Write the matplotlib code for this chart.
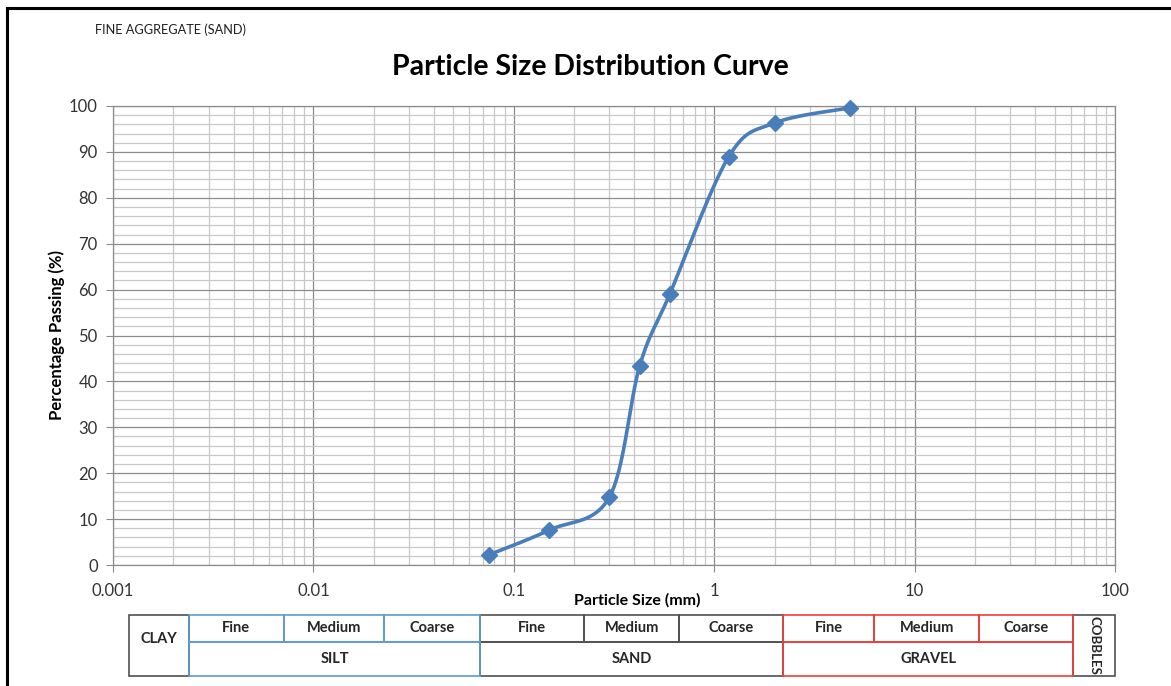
import numpy as np
import matplotlib.pyplot as plt
from matplotlib.lines import Line2D
from matplotlib.patches import Rectangle
from matplotlib.ticker import FixedLocator, FuncFormatter

plt.rcParams['font.family'] = ['Lato', 'DejaVu Sans']

# sieve results
size_mm = [0.075, 0.15, 0.3, 0.425, 0.6, 1.18, 2.0, 4.75]
passing = [2.2, 7.6, 14.8, 43.4, 59.0, 88.9, 96.3, 99.6]

# soil classification bands under the chart, cell edges in mm
clay_edges = [0.0012, 0.0024]
silt_edges = [0.0024, 0.0071, 0.0224, 0.068]
sand_edges = [0.068, 0.225, 0.67, 2.2]
gravel_edges = [2.2, 6.3, 21, 62]
cobble_edges = [62, 100]
sub_names = ['Fine', 'Medium', 'Coarse']

W, H = 1171, 686
fig = plt.figure(figsize=(W / 100, H / 100), dpi=100)
txt = '#333333'
blue = '#4a7ebb'


def smooth(ax, xs, ys, n=40):
    # excel-like smoothed line (bezier through points, done in screen space)
    pts = ax.transData.transform(np.column_stack([xs, ys]))
    p = np.vstack([pts[0], pts, pts[-1]])
    t = np.linspace(0, 1, n)[:, None]
    segs = []
    for i in range(1, len(p) - 2):
        p0, p1, p2, p3 = p[i - 1], p[i], p[i + 1], p[i + 2]
        c1 = p1 + (p2 - p0) / 6
        c2 = p2 - (p3 - p1) / 6
        segs.append((1 - t) ** 3 * p1 + 3 * (1 - t) ** 2 * t * c1
                    + 3 * (1 - t) * t ** 2 * c2 + t ** 3 * p2)
    return ax.transData.inverted().transform(np.vstack(segs))


# main chart
left, right, top, bottom = 113, 1115, 106, 565
ax = fig.add_axes([left / W, 1 - bottom / H, (right - left) / W, (bottom - top) / H])
ax.set_xscale('log')
ax.set_xlim(0.001, 100)
ax.set_ylim(0, 100)
ax.xaxis.set_major_locator(FixedLocator([0.001, 0.01, 0.1, 1, 10, 100]))
ax.xaxis.set_major_formatter(FuncFormatter(lambda v, p: '{:g}'.format(v)))
ax.xaxis.set_minor_locator(FixedLocator([m * 10.0 ** e for e in range(-3, 2) for m in range(2, 10)]))
ax.set_yticks(range(0, 101, 10))
ax.yaxis.set_minor_locator(FixedLocator(range(0, 101, 2)))
ax.grid(which='major', color='#8c8c8c', lw=0.9)
ax.grid(which='minor', color='#c8c8c8', lw=0.9)
ax.set_axisbelow(True)
ax.tick_params(which='major', length=5, width=0.8, color='#8c8c8c', labelsize=12, labelcolor=txt)
ax.tick_params(axis='x', pad=8)
ax.tick_params(axis='y', pad=6)
ax.tick_params(which='minor', length=0)
for s in ax.spines.values():
    s.set_color('#8c8c8c')
    s.set_linewidth(0.9)

curve = smooth(ax, size_mm, passing)
ax.plot(curve[:, 0], curve[:, 1], color=blue, lw=2.6, clip_on=False, zorder=3)
ax.plot(size_mm, passing, 'D', color=blue, ms=8, clip_on=False, zorder=4)

ax.text((57 - left) / (right - left), 0.5, 'Percentage Passing (%)', transform=ax.transAxes,
        rotation=90, ha='center', va='center', fontsize=12, fontweight='bold', color='black')
ax.text((637 - left) / (right - left), -(600 - bottom) / (bottom - top), 'Particle Size (mm)',
        transform=ax.transAxes, ha='center', va='center', fontsize=11.5, fontweight='bold', color='black')

fig.text(590 / W, 1 - 67 / H, 'Particle Size Distribution Curve', ha='center', va='center',
         fontsize=20.5, fontweight='bold', color='black')
fig.text(95 / W, 1 - 30 / H, 'FINE AGGREGATE (SAND)', ha='left', va='center', fontsize=9.2, color='#1f1f1f')

# classification table, sharing the log scale of the chart
tbl_top, tbl_bottom = 615, 676
tax = fig.add_axes([left / W, 1 - tbl_bottom / H, (right - left) / W, (tbl_bottom - tbl_top) / H])
tax.set_xscale('log')
tax.set_xlim(0.001, 100)
tax.set_ylim(0, 1)
tax.axis('off')
split = (tbl_bottom - 642) / (tbl_bottom - tbl_top)


def cell(a, b, y0, y1, color, label, ty=None, rot=0, fs=10.5):
    tax.add_patch(Rectangle((a, y0), b - a, y1 - y0, fill=False, ec=color, lw=1.2, clip_on=False))
    ty = (y0 + y1) / 2 if ty is None else ty
    tax.text(np.sqrt(a * b), ty, label, ha='center', va='center', rotation=rot,
             fontsize=fs, fontweight='bold', color='#262626')


def band(edges, name, color):
    for a, b, lab in zip(edges[:-1], edges[1:], sub_names):
        cell(a, b, split, 1, color, lab)
    cell(edges[0], edges[-1], 0, split, color, name)


dark = '#505050'
cell(clay_edges[0], clay_edges[1], 0, 1, dark, 'CLAY', ty=0.6)
band(sand_edges, 'SAND', dark)
cell(cobble_edges[0], cobble_edges[1], 0, 1, dark, 'COBBLES', rot=-90, fs=9.5)
band(silt_edges, 'SILT', '#5b9bd5')
band(gravel_edges, 'GRAVEL', '#f03c3c')

# frame lines of the sheet
fig.add_artist(Line2D([7 / W, 1], [1 - 8 / H] * 2, transform=fig.transFigure, color='black', lw=2.2))
fig.add_artist(Line2D([7 / W] * 2, [0, 1 - 8 / H], transform=fig.transFigure, color='black', lw=2.2))

fig.savefig('out.png', dpi=100)
